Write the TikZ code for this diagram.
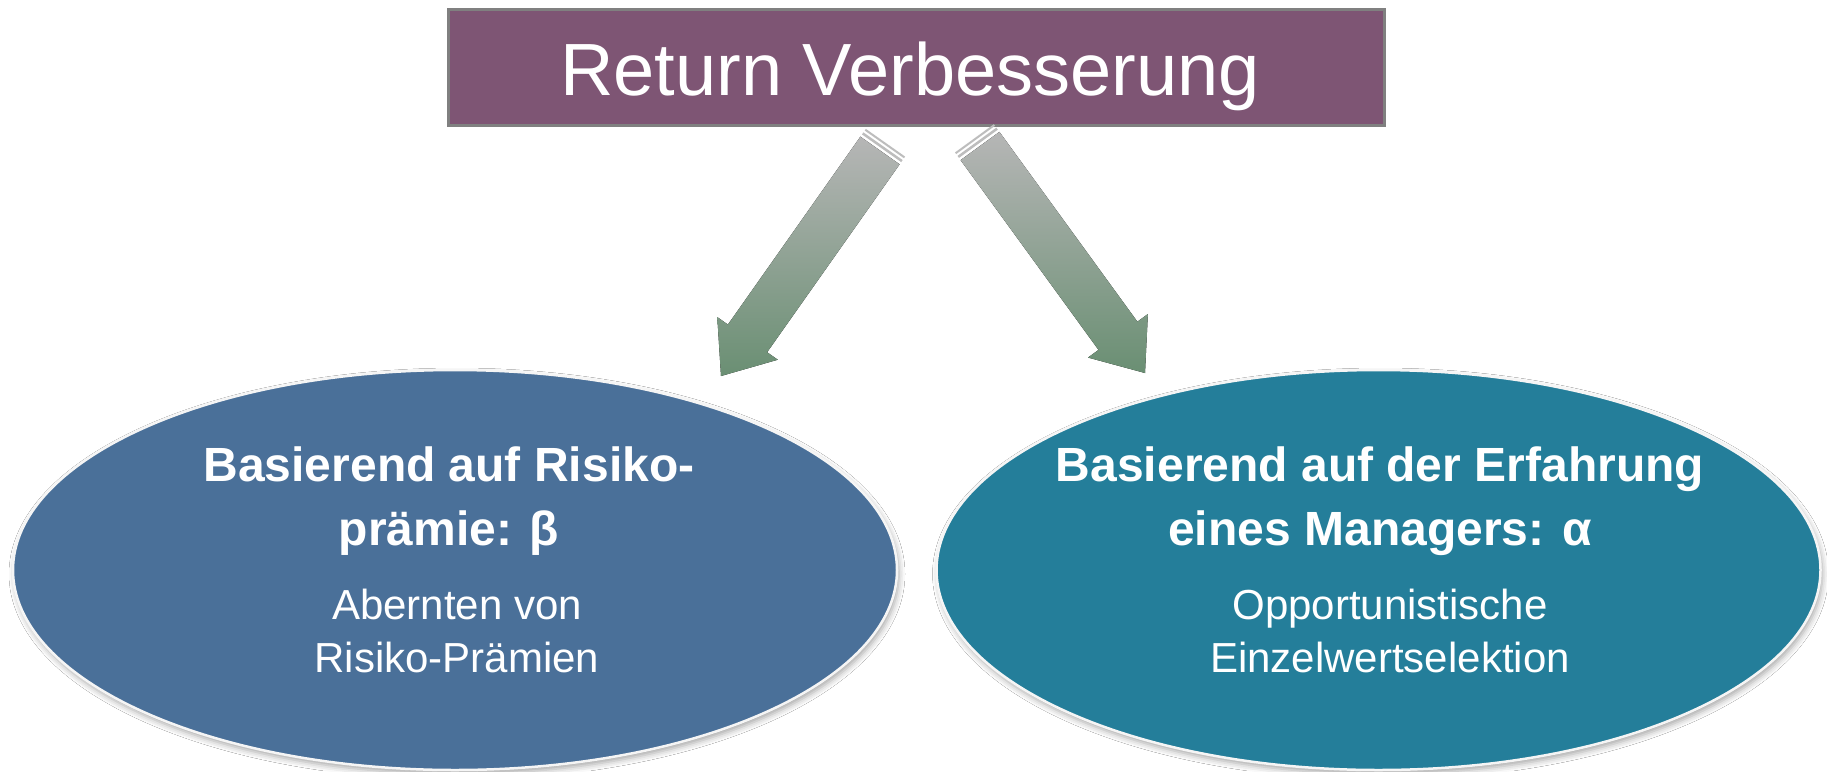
\documentclass[tikz,border=0pt]{standalone}
\usepackage{fontspec}
\setmainfont{Liberation Sans}
\usetikzlibrary{calc,shadows.blur,shapes.geometric}
\definecolor{boxfill}{HTML}{7E5574}
\definecolor{boxline}{HTML}{808080}
\definecolor{lellfill}{HTML}{4A7099}
\definecolor{rellfill}{HTML}{247E9A}
\definecolor{arrtop}{HTML}{B6B6B6}
\definecolor{arrbot}{HTML}{6A8F73}
\definecolor{stripecol}{HTML}{BDBDBD}
\begin{document}
\begin{tikzpicture}[x=1pt,y=-1pt,
  topbox/.style={rectangle, fill=boxfill, draw=boxline, line width=3pt,
    minimum width=936pt, minimum height=116pt, inner sep=0pt, outer sep=0pt},
  titletext/.style={text=white, inner sep=0pt, font=\fontsize{74pt}{80pt}\selectfont},
  bigell/.style={ellipse, draw=white!92!gray, line width=2.5pt,
    minimum width=884pt, minimum height=400pt, inner sep=0pt, outer sep=0pt,
    blur shadow={shadow xshift=2pt, shadow yshift=-4pt, shadow blur radius=6pt, shadow opacity=35}},
  headtxt/.style={text=white, inner sep=0pt, font=\bfseries\fontsize{48pt}{56pt}\selectfont},
  subtxt/.style={text=white, inner sep=0pt, font=\fontsize{42pt}{50pt}\selectfont},
  arrowshade/.style={top color=arrtop, bottom color=arrbot, draw=none},
  stripe/.style={draw=stripecol, line cap=butt}
]
\useasboundingbox[fill=white] (0,0) rectangle (1827,771);

% top box
\node[topbox] (top) at (916.5,67.5) {};
\node[titletext, anchor=base] (title) at (910,95) {Return Verbesserung};

% ellipses
\node[bigell, fill=lellfill] (lell) at (455,570) {};
\node[bigell, fill=rellfill] (rell) at (1378.5,570) {};

% left ellipse text
\node[headtxt, anchor=base] (l1) at (449,481) {Basierend auf Risiko-};
\node[headtxt, anchor=base] (l2) at (449,545) {prämie: β};
\node[subtxt, anchor=base] (l3) at (457,619) {Abernten von};
\node[subtxt, anchor=base] (l4) at (457,672) {Risiko-Prämien};

% right ellipse text
\node[headtxt, anchor=base] (r1) at (1380,481) {Basierend auf der Erfahrung};
\node[headtxt, anchor=base] (r2) at (1380,545) {eines Managers: α};
\node[subtxt, anchor=base] (r3) at (1390,619) {Opportunistische};
\node[subtxt, anchor=base] (r4) at (1390,672) {Einzelwertselektion};

% arrow anchors
\coordinate (s1) at ($(top.south)+(-36.5,25)$);
\coordinate (e1) at ($(lell.north)+(266,6)$);
\coordinate (s2) at ($(top.south)+(63.5,20.5)$);
\coordinate (e2) at ($(rell.north)+(-233.5,3)$);

\coordinate (h1) at ($(e1)!46pt!(s1)$);
\coordinate (h2) at ($(e2)!46pt!(s2)$);

% left block arrow
\fill[arrowshade]
  ($(s1)!24pt!90:(e1)$) -- ($(h1)!24pt!90:(e1)$) -- ($(h1)!37pt!90:(e1)$) -- (e1)
  -- ($(h1)!37pt!-90:(e1)$) -- ($(h1)!24pt!-90:(e1)$) -- ($(s1)!24pt!-90:(e1)$) -- cycle;
\coordinate (t1a) at ($(s1)!-4pt!(e1)$);
\coordinate (t1b) at ($(s1)!-8.5pt!(e1)$);
\draw[stripe, line width=2.5pt] ($(t1a)!24pt!90:(e1)$) -- ($(t1a)!24pt!-90:(e1)$);
\draw[stripe, line width=2pt] ($(t1b)!24pt!90:(e1)$) -- ($(t1b)!24pt!-90:(e1)$);

% right block arrow
\fill[arrowshade]
  ($(s2)!24pt!90:(e2)$) -- ($(h2)!24pt!90:(e2)$) -- ($(h2)!37pt!90:(e2)$) -- (e2)
  -- ($(h2)!37pt!-90:(e2)$) -- ($(h2)!24pt!-90:(e2)$) -- ($(s2)!24pt!-90:(e2)$) -- cycle;
\coordinate (t2a) at ($(s2)!-4pt!(e2)$);
\coordinate (t2b) at ($(s2)!-8.5pt!(e2)$);
\draw[stripe, line width=2.5pt] ($(t2a)!24pt!90:(e2)$) -- ($(t2a)!24pt!-90:(e2)$);
\draw[stripe, line width=2pt] ($(t2b)!24pt!90:(e2)$) -- ($(t2b)!24pt!-90:(e2)$);
\end{tikzpicture}
\end{document}
